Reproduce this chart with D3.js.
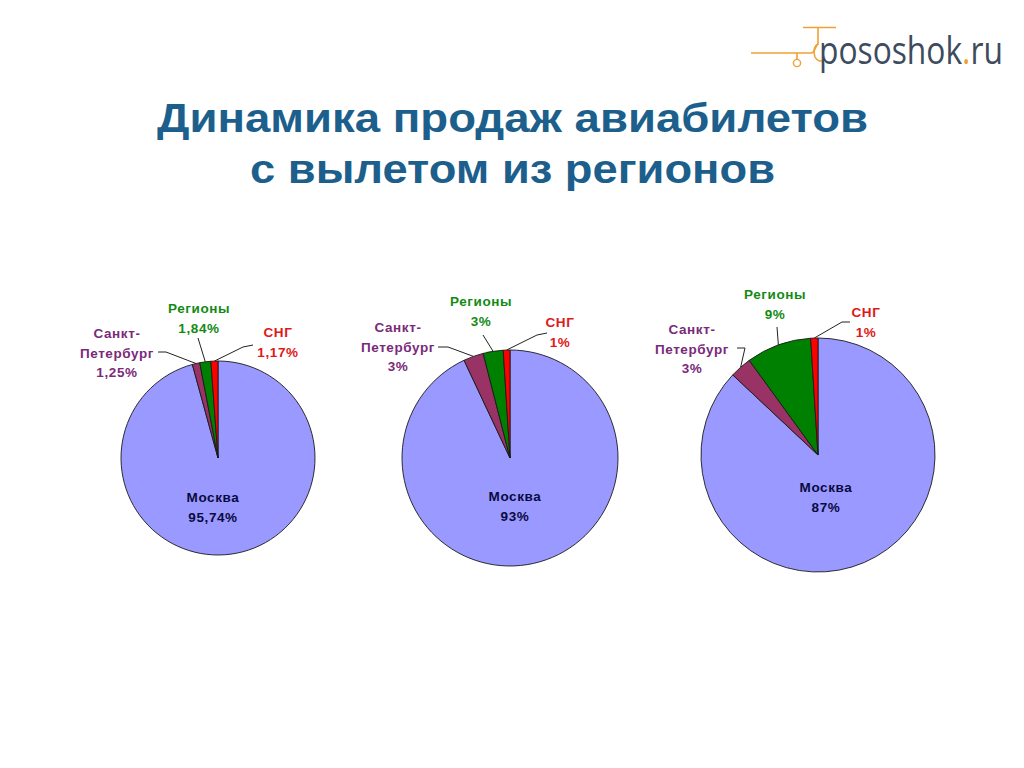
<!DOCTYPE html>
<html>
<head>
<meta charset="utf-8">
<script src="https://cdn.jsdelivr.net/npm/d3@7"></script>
<style>
  html, body { margin: 0; padding: 0; background: #ffffff; }
  svg { display: block; }
</style>
</head>
<body>
<svg id="chart" width="1024" height="768"></svg>
<script>
// ---------- DATA ----------
const categories = ["Москва", "Санкт-Петербург", "Регионы", "СНГ"];
const valuesA = [95.74, 1.25, 1.84, 1.17];
const valuesB = [93, 3, 3, 1];
const valuesC = [87, 3, 9, 1];
const labelsA = ["95,74%", "1,25%", "1,84%", "1,17%"];
const labelsB = ["93%", "3%", "3%", "1%"];
const labelsC = ["87%", "3%", "9%", "1%"];
const titleLines = ["Динамика продаж авиабилетов", "с вылетом из регионов"];

// ---------- STYLE ----------
const sliceColors = ["#9999ff", "#993366", "#008000", "#ff0000"];
const labelColors = ["#0a0a40", "#7a2a7a", "#148a14", "#e01818"];
const nameLines = [["Москва"], ["Санкт-", "Петербург"], ["Регионы"], ["СНГ"]];

const svg = d3.select("#chart");

// ---------- TITLE ----------
const titleWidths = [711, 525];
const titleBaselines = [132, 183];
titleLines.forEach((t, i) => {
  svg.append("text")
    .attr("x", 512.5)
    .attr("y", titleBaselines[i])
    .attr("text-anchor", "middle")
    .attr("font-family", "Liberation Sans, Arial, sans-serif")
    .attr("font-weight", "bold")
    .attr("font-size", 40)
    .attr("fill", "#1d5f8c")
    .attr("textLength", titleWidths[i])
    .attr("lengthAdjust", "spacingAndGlyphs")
    .text(t);
});

// ---------- LOGO ----------
const logo = svg.append("g");
const orange = "#f0a035";
logo.append("path")
  .attr("d", "M751,53 L811,53 C815,53 815,46 818,44 L818,28 M803,27.5 L836,27.5 M797,53 L797,59")
  .attr("fill", "none").attr("stroke", orange).attr("stroke-width", 1.6);
logo.append("path")
  .attr("d", "M818,44 C814,46 813,52 815,57 C817,61 821,62 823,60")
  .attr("fill", "none").attr("stroke", orange).attr("stroke-width", 1.6);
logo.append("circle").attr("cx", 797).attr("cy", 63).attr("r", 3.6)
  .attr("fill", "none").attr("stroke", orange).attr("stroke-width", 1.4);
const logoG = logo.append("g");
const logoText = logoG.append("text")
  .attr("x", 0).attr("y", 0)
  .attr("font-family", "Open Sans, Noto Sans, sans-serif")
  .attr("font-size", 38)
  .attr("fill", "#3d4b5e");
logoText.append("tspan").text("pososhok");
logoText.append("tspan").attr("fill", orange).text(".");
logoText.append("tspan").text("ru");
const natural = logoText.node().getComputedTextLength() || 184;
logoG.attr("transform", `translate(819,64) scale(${184 / natural},1)`);

// ---------- PIES ----------
const pies = [
  {
    values: valuesA, labels: labelsA, cx: 218, cy: 458, r: 97,
    moscow: [0, 44],
    text: [null, { x: -101, y: -120 }, { x: -19, y: -145 }, { x: 60, y: -121 }],
    lineStart: [null, [-60, -106], [-20, -120], [35, -113]],
    elbow: [null, [-52, -106], null, [25, -111]]
  },
  {
    values: valuesB, labels: labelsB, cx: 510, cy: 458, r: 108,
    moscow: [10, 43],
    text: [null, { x: -112, y: -126 }, { x: -29, y: -152 }, { x: 50, y: -131 }],
    lineStart: [null, [-72, -111], [-27, -123], [37, -125]],
    elbow: [null, [-62, -111], null, [27, -123]]
  },
  {
    values: valuesC, labels: labelsC, cx: 818, cy: 455, r: 117,
    moscow: [13, 37],
    text: [null, { x: -126, y: -121 }, { x: -43, y: -156 }, { x: 48, y: -138 }],
    lineStart: [null, [-81, -107], [-41, -128], [32, -133]],
    elbow: [null, [-73, -107], null, [24, -133]]
  }
];

const pieGen = d3.pie().sort(null).value(d => d).startAngle(0).endAngle(2 * Math.PI);
const font = "Liberation Sans, Arial, sans-serif";

pies.forEach(p => {
  const g = svg.append("g").attr("transform", `translate(${p.cx},${p.cy})`);
  const arcs = pieGen(p.values);
  const arc = d3.arc().innerRadius(0).outerRadius(p.r);

  g.selectAll("path.slice")
    .data(arcs)
    .join("path")
    .attr("class", "slice")
    .attr("d", arc)
    .attr("fill", (d, i) => sliceColors[i])
    .attr("stroke", "#1a1a1a")
    .attr("stroke-width", 0.9)
    .attr("stroke-linejoin", "round");

  // leader lines for the small slices
  arcs.forEach((d, i) => {
    if (i === 0) return;
    const a = (d.startAngle + d.endAngle) / 2;
    const end = [Math.sin(a) * p.r, -Math.cos(a) * p.r];
    const pts = [p.lineStart[i]];
    if (p.elbow[i]) pts.push(p.elbow[i]);
    pts.push(end);
    g.append("path")
      .attr("d", d3.line()(pts))
      .attr("fill", "none")
      .attr("stroke", "#222")
      .attr("stroke-width", 1);
  });

  // labels
  arcs.forEach((d, i) => {
    const lines = nameLines[i].concat([p.labels[i]]);
    const pos = i === 0 ? { x: p.moscow[0] - 5, y: p.moscow[1] } : p.text[i];
    const t = g.append("text")
      .attr("text-anchor", "middle")
      .attr("font-family", font)
      .attr("font-weight", "bold")
      .attr("font-size", 13.5)
      .attr("letter-spacing", 0.6)
      .attr("fill", labelColors[i]);
    lines.forEach((ln, k) => {
      t.append("tspan")
        .attr("x", pos.x)
        .attr("y", pos.y + k * 19.5)
        .text(ln);
    });
  });
});
</script>
</body>
</html>
